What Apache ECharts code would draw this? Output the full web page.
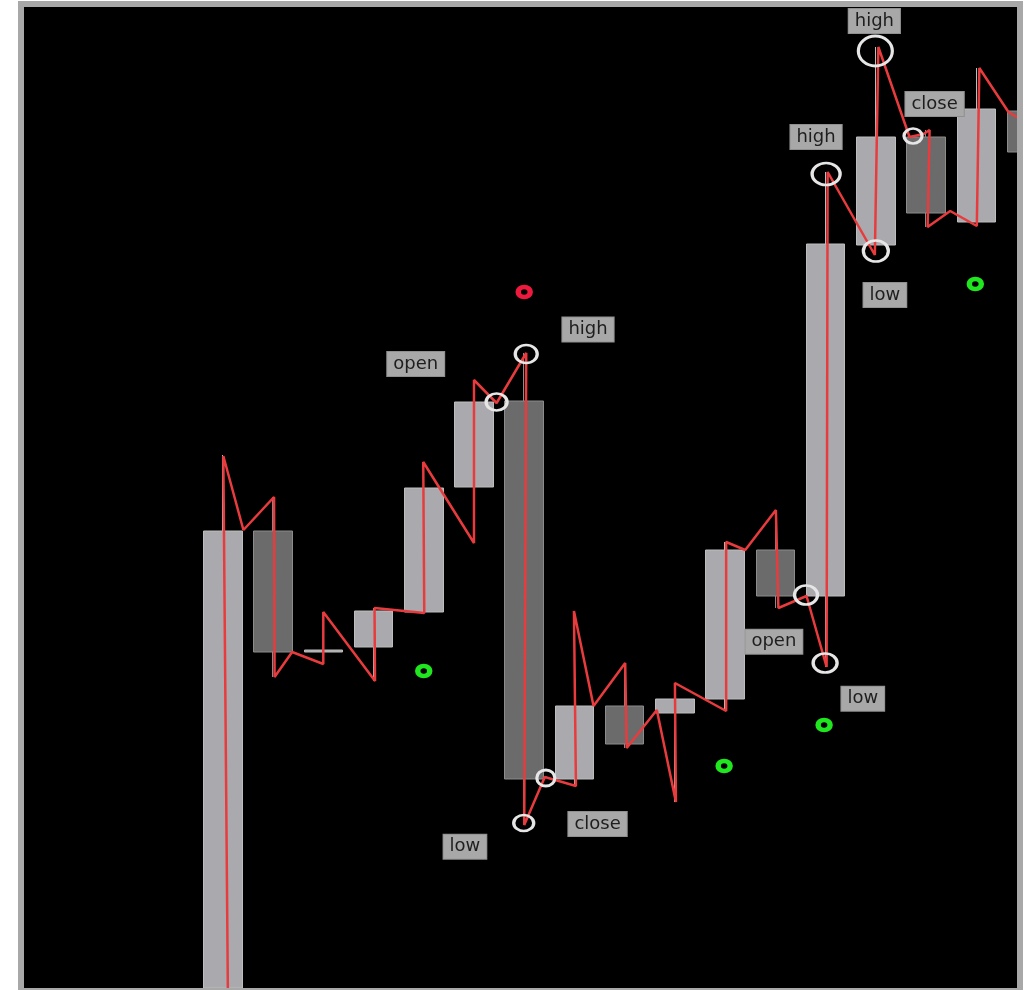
<!DOCTYPE html>
<html>
<head>
<meta charset="utf-8">
<script src="https://cdn.jsdelivr.net/npm/echarts@6/dist/echarts.min.js"></script>
<style>
  html, body { margin: 0; padding: 0; background: #fff; }
  #main { width: 1035px; height: 990px; }
</style>
</head>
<body>
<div id="main"></div>
<script>
"use strict";

// candles, position = candle index
var candleX = [0, 1, 2, 3, 4, 5, 6, 7, 8, 9, 10, 11, 12, 13, 14, 15, 16];
var opens  = [0.0, 45.7, 33.6, 34.1, 37.6, 50.1, 58.7, 20.9, 28.2, 27.5, 28.9, 43.8, 39.2, 74.3, 85.1, 76.6, 87.7];
var closes = [45.7, 33.6, 33.8, 37.7, 50.0, 58.6, 20.9, 28.2, 24.4, 28.9, 43.8, 39.2, 74.4, 85.1, 77.5, 87.9, 83.6];
var lows   = [0.0, 31.1, 32.4, 30.7, 37.5, 44.5, 16.3, 20.2, 24.0, 18.6, 27.7, 38.0, 32.1, 73.3, 76.1, 76.2, 83.0];
var highs  = [53.3, 49.1, 37.6, 38.0, 52.6, 60.8, 63.5, 37.7, 32.5, 30.5, 44.6, 47.8, 81.6, 94.1, 85.8, 92.0, 88.5];

// price path drawn through the candles
var pathX = [0.10, 0.01, 0.41, 1.02, 1.03, 1.38, 2.00, 2.00, 3.03, 3.02, 4.01, 3.99, 5.00, 5.00, 5.45,
             6.04, 6.00, 6.41, 7.03, 6.99, 7.38, 8.01, 8.04, 8.64, 9.02, 9.00, 10.02, 10.02, 10.40, 11.01,
             11.06, 11.62, 12.02, 12.04, 12.98, 13.05, 13.67, 13.95, 14.07, 14.03, 14.48, 15.01, 15.06, 15.64, 16.07];
var pathY = [0.0, 53.2, 45.8, 49.1, 31.1, 33.6, 32.4, 37.6, 30.7, 38.0, 37.5, 52.6, 44.5, 60.8, 58.5,
             63.5, 16.3, 21.1, 20.2, 37.7, 28.2, 32.5, 24.0, 27.8, 18.6, 30.5, 27.7, 44.6, 43.8, 47.8,
             38.0, 39.2, 32.1, 81.6, 73.3, 94.1, 85.1, 85.4, 85.8, 76.1, 77.7, 76.2, 92.0, 87.6, 86.3];

// marked points (white rings)
var markX = [5.45, 6.04, 5.99, 6.43, 11.61, 11.99, 12.01, 13.00, 12.99, 13.74];
var markY = [58.6, 63.4, 16.5, 21.0, 39.3, 32.5, 81.4, 73.7, 93.7, 85.2];

// signals
var greenX = [4.00, 9.98, 11.97, 14.98];
var greenY = [31.7, 22.2, 26.3, 70.4];
var redX = [6.00];
var redY = [69.6];

// annotations
var labelText = ["high", "high", "close", "low", "high", "open", "low", "close", "open", "low"];
var labelX = [12.97, 11.81, 14.17, 13.18, 7.27, 3.84, 4.82, 7.46, 10.97, 12.74];
var labelY = [96.7, 85.1, 88.4, 69.3, 65.85, 62.4, 14.13, 16.4, 34.63, 28.93];

var markSizes = [[21, 17], [22, 18], [20, 16], [18, 16], [23, 19], [24, 19], [28, 22], [25, 21], [34, 30], [18, 15]];

function zip(a, b) {
    var out = [];
    for (var i = 0; i < a.length; i++) out.push([a[i], b[i]]);
    return out;
}

drawChart();

function drawChart() {
    var chart = echarts.init(document.getElementById('main'));

    var candles = [];
    for (var i = 0; i < candleX.length; i++) {
        candles.push([candleX[i], opens[i], closes[i], lows[i], highs[i]]);
    }

    var labels = [];
    for (var j = 0; j < labelText.length; j++) {
        labels.push({ value: [labelX[j], labelY[j]], name: labelText[j] });
    }

    chart.setOption({
        animation: false,
        backgroundColor: '#fff',
        grid: {
            left: 24, right: 18, top: 7, bottom: 2,
            show: true,
            backgroundColor: '#000',
            borderWidth: 0
        },
        xAxis: {
            type: 'value',
            min: -3.958,
            max: 15.81,
            show: false
        },
        yAxis: {
            type: 'value',
            min: 0,
            max: 98.1,
            show: false
        },
        series: [
            {
                type: 'candlestick',
                data: candles,
                encode: { x: 0, y: [1, 2, 3, 4] },
                barWidth: 39,
                itemStyle: {
                    color: '#aaa9ad',
                    borderColor: '#bdbdbd',
                    color0: '#6b6b6b',
                    borderColor0: '#8c8c8c',
                    borderWidth: 1
                },
                z: 2
            },
            {
                type: 'line',
                data: zip(pathX, pathY),
                showSymbol: false,
                lineStyle: { color: '#e83b3e', width: 2.5 },
                z: 3
            },
            {
                type: 'scatter',
                data: zip(markX, markY),
                symbol: 'circle',
                symbolSize: function (val, params) { return markSizes[params.dataIndex]; },
                itemStyle: { color: 'rgba(0,0,0,0)', borderColor: '#e6e6e6', borderWidth: 3, opacity: 1 },
                z: 4
            },
            {
                type: 'scatter',
                data: zip(greenX, greenY),
                symbol: 'circle',
                symbolSize: [12, 10],
                itemStyle: { color: '#000', borderColor: '#1fe61f', borderWidth: 5, opacity: 1 },
                z: 4
            },
            {
                type: 'scatter',
                data: zip(redX, redY),
                symbol: 'circle',
                symbolSize: [12, 10],
                itemStyle: { color: '#000', borderColor: '#ee1a3e', borderWidth: 5, opacity: 1 },
                z: 4
            },
            {
                type: 'scatter',
                data: labels,
                symbolSize: 0,
                itemStyle: { opacity: 1 },
                label: {
                    show: true,
                    position: 'inside',
                    formatter: '{b}',
                    fontFamily: 'DejaVu Sans',
                    fontSize: 18,
                    lineHeight: 19,
                    color: '#1e1e1e',
                    backgroundColor: '#a8a8a8',
                    borderColor: '#909090',
                    borderWidth: 1,
                    padding: [3, 6, 2, 6]
                },
                z: 5
            }
        ],
        graphic: [
            {
                type: 'rect',
                z: 100,
                shape: { x: 1023, y: 0, width: 20, height: 990 },
                style: { fill: '#fff' }
            },
            {
                type: 'rect',
                z: 101,
                shape: { x: 21, y: 4, width: 999, height: 987 },
                style: { fill: null, stroke: '#a8a8a8', lineWidth: 6 }
            }
        ]
    });
}
</script>
</body>
</html>
